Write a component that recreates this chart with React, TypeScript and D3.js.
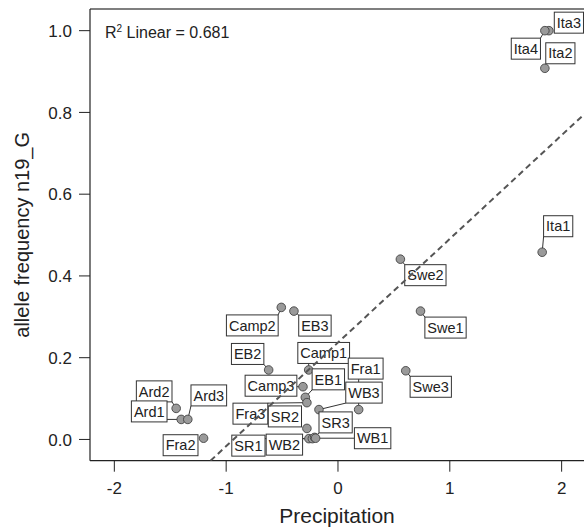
import React, { useRef, useEffect } from 'react';
import * as d3 from 'd3';

// site names, standardized precipitation and allele frequency of n19_G
const sites = ['Ita3', 'Ita4', 'Ita2', 'Ita1', 'Swe2', 'Swe1', 'Swe3', 'Camp2', 'EB3', 'EB2', 'Camp1', 'Camp3', 'EB1',
  'Fra3', 'WB3', 'Fra1', 'SR2', 'SR1', 'WB2', 'SR3', 'WB1', 'Ard2', 'Ard1', 'Ard3', 'Fra2'];
const precipitation = [1.886, 1.85, 1.85, 1.826, 0.558, 0.738, 0.606, -0.507, -0.394, -0.62, -0.262, -0.313, -0.292,
  -0.278, -0.17, 0.185, -0.278, -0.26, -0.229, -0.209, -0.2, -1.447, -1.402, -1.343, -1.202];
const alleleFreq = [1.0, 1.0, 0.908, 0.458, 0.441, 0.314, 0.168, 0.323, 0.314, 0.17, 0.17, 0.129, 0.103,
  0.09, 0.073, 0.073, 0.027, 0.002, 0.002, 0.005, 0.003, 0.076, 0.049, 0.049, 0.003];
const xTicks = [-2, -1, 0, 1, 2];
const yTicks = [0, 0.2, 0.4, 0.6, 0.8, 1.0];
const r2Text = '0.681';

// label box offsets from their point (pixels), the repel layout of the original
const labelShift: Record<string, [number, number]> = {
  Ita3: [20, -8], Ita4: [-19, 18], Ita2: [15.5, -15], Ita1: [16, -26],
  Swe2: [25, 16], Swe1: [25, 16.5], Swe3: [25, 16],
  Camp2: [-29, 18], EB3: [21, 14.5], EB2: [-21, -16], Camp1: [15, -17], Camp3: [-32, -1], EB1: [23, -18],
  Fra3: [-56.5, 11], WB3: [45, -17], Fra1: [7, -41], SR2: [-22, -12], SR1: [-60.5, 7], WB2: [-28, 6],
  SR3: [21, -15], WB1: [57, 0], Ard2: [-22, -17], Ard1: [-32, -8], Ard3: [21, -24], Fra2: [-23, 7],
};

const W = 584;
const H = 528;
const FONT = '"Liberation Sans", Arial, Helvetica, sans-serif';

export default function App() {
  const svgRef = useRef<SVGSVGElement>(null);

  useEffect(() => {
    const svg = d3.select(svgRef.current);
    svg.selectAll('*').remove();

    const left = 90, right = 584, top = 9, bottom = 460.7;
    const x = d3.scaleLinear().domain([-2.2176, 2.2]).range([left, right]);
    const y = d3.scaleLinear().domain([-0.052, 1.053]).range([bottom, top]);

    const data = sites.map((s, i) => ({ name: s, px: precipitation[i], af: alleleFreq[i] }));

    svg.append('clipPath').attr('id', 'plotclip')
      .append('rect').attr('x', left).attr('y', top).attr('width', right - left).attr('height', bottom - top);

    // frame
    svg.append('line').attr('x1', left).attr('x2', W).attr('y1', top).attr('y2', top)
      .attr('stroke', '#555').attr('stroke-width', 1.6);
    svg.append('line').attr('x1', left).attr('x2', left).attr('y1', top).attr('y2', bottom)
      .attr('stroke', '#222').attr('stroke-width', 1.2);
    svg.append('line').attr('x1', left).attr('x2', W).attr('y1', bottom).attr('y2', bottom)
      .attr('stroke', '#222').attr('stroke-width', 1.2);

    // x axis
    const gx = svg.append('g');
    xTicks.forEach(t => {
      gx.append('line').attr('x1', x(t)).attr('x2', x(t)).attr('y1', bottom).attr('y2', bottom + 11)
        .attr('stroke', '#222').attr('stroke-width', 1);
      gx.append('text').attr('x', x(t)).attr('y', 494).attr('text-anchor', 'middle')
        .style('font-family', FONT).style('font-size', '17px').attr('fill', '#222')
        .text(t < 0 ? '-' + Math.abs(t) : String(t));
    });
    svg.append('text').attr('x', (left + right) / 2).attr('y', 523).attr('text-anchor', 'middle')
      .style('font-family', FONT).style('font-size', '21px').attr('fill', '#222').text('Precipitation');

    // y axis
    const gy = svg.append('g');
    yTicks.forEach(t => {
      gy.append('line').attr('x1', left - 11).attr('x2', left).attr('y1', y(t)).attr('y2', y(t))
        .attr('stroke', '#222').attr('stroke-width', 1);
      gy.append('text').attr('x', 72).attr('y', y(t)).attr('dy', '0.36em').attr('text-anchor', 'end')
        .style('font-family', FONT).style('font-size', '17px').attr('fill', '#222').text(t.toFixed(1));
    });
    svg.append('text').attr('transform', `translate(29,${(top + bottom) / 2}) rotate(-90)`)
      .attr('text-anchor', 'middle')
      .style('font-family', FONT).style('font-size', '20px').attr('fill', '#222').text('allele frequency n19_G');

    // R2 annotation
    const r2 = svg.append('text').attr('x', 105).attr('y', 38)
      .style('font-family', FONT).style('font-size', '16px').attr('fill', '#222');
    r2.append('tspan').text('R');
    r2.append('tspan').attr('dy', -6).style('font-size', '10px').text('2');
    r2.append('tspan').attr('dy', 6).text(` Linear = ${r2Text}`);

    // least squares fit
    const mx = d3.mean(data, d => d.px) as number;
    const my = d3.mean(data, d => d.af) as number;
    const sxy = d3.sum(data, d => (d.px - mx) * (d.af - my));
    const sxx = d3.sum(data, d => (d.px - mx) ** 2);
    const slope = sxy / sxx;
    const icpt = my - slope * mx;

    const plot = svg.append('g').attr('clip-path', 'url(#plotclip)');

    // label boxes
    const boxes = data.map(d => {
      const cx = x(d.px), cy = y(d.af);
      const [dx, dy] = labelShift[d.name];
      return { ...d, cx, cy, bx: cx + dx, by: cy + dy };
    });

    const segG = svg.append('g');
    const ptG = svg.append('g');
    const lblG = svg.append('g');

    boxes.forEach(b => {
      ptG.append('circle').attr('cx', b.cx).attr('cy', b.cy).attr('r', 4.3)
        .attr('fill', '#9a9a9a').attr('stroke', '#444').attr('stroke-width', 0.9);

      const g = lblG.append('g');
      const rect = g.append('rect');
      const txt = g.append('text').attr('x', b.bx).attr('y', b.by).attr('dy', '0.36em')
        .attr('text-anchor', 'middle').style('font-family', FONT).style('font-size', '14.5px')
        .attr('fill', '#222').text(b.name);
      const tw = (txt.node() as SVGTextElement).getComputedTextLength();
      const bw = tw + 5, bh = 21;
      const x0 = b.bx - bw / 2, y0 = b.by - bh / 2;
      rect.attr('x', x0).attr('y', y0).attr('width', bw).attr('height', bh)
        .attr('fill', 'white').attr('stroke', '#333').attr('stroke-width', 1);

      // leader segment to the nearest edge of the box
      const nx = Math.max(x0, Math.min(b.cx, x0 + bw));
      const ny = Math.max(y0, Math.min(b.cy, y0 + bh));
      const dist = Math.hypot(nx - b.cx, ny - b.cy);
      if (dist > 6) {
        segG.append('line').attr('x1', b.cx).attr('y1', b.cy).attr('x2', nx).attr('y2', ny)
          .attr('stroke', '#333').attr('stroke-width', 1);
      }
    });

    // fit line on top
    const xStart = (y.domain()[0] - icpt) / slope;
    const xEnd = x.domain()[1] + 0.2;
    plot.append('line')
      .attr('x1', x(xStart)).attr('y1', y(icpt + slope * xStart))
      .attr('x2', x(xEnd)).attr('y2', y(icpt + slope * xEnd))
      .attr('stroke', '#555').attr('stroke-width', 2).attr('stroke-dasharray', '6,4');
    plot.raise();
  }, []);

  return (
    <svg ref={svgRef} width={W} height={H}
      style={{ position: 'absolute', left: 0, top: 0, background: 'white' }} />
  );
}
